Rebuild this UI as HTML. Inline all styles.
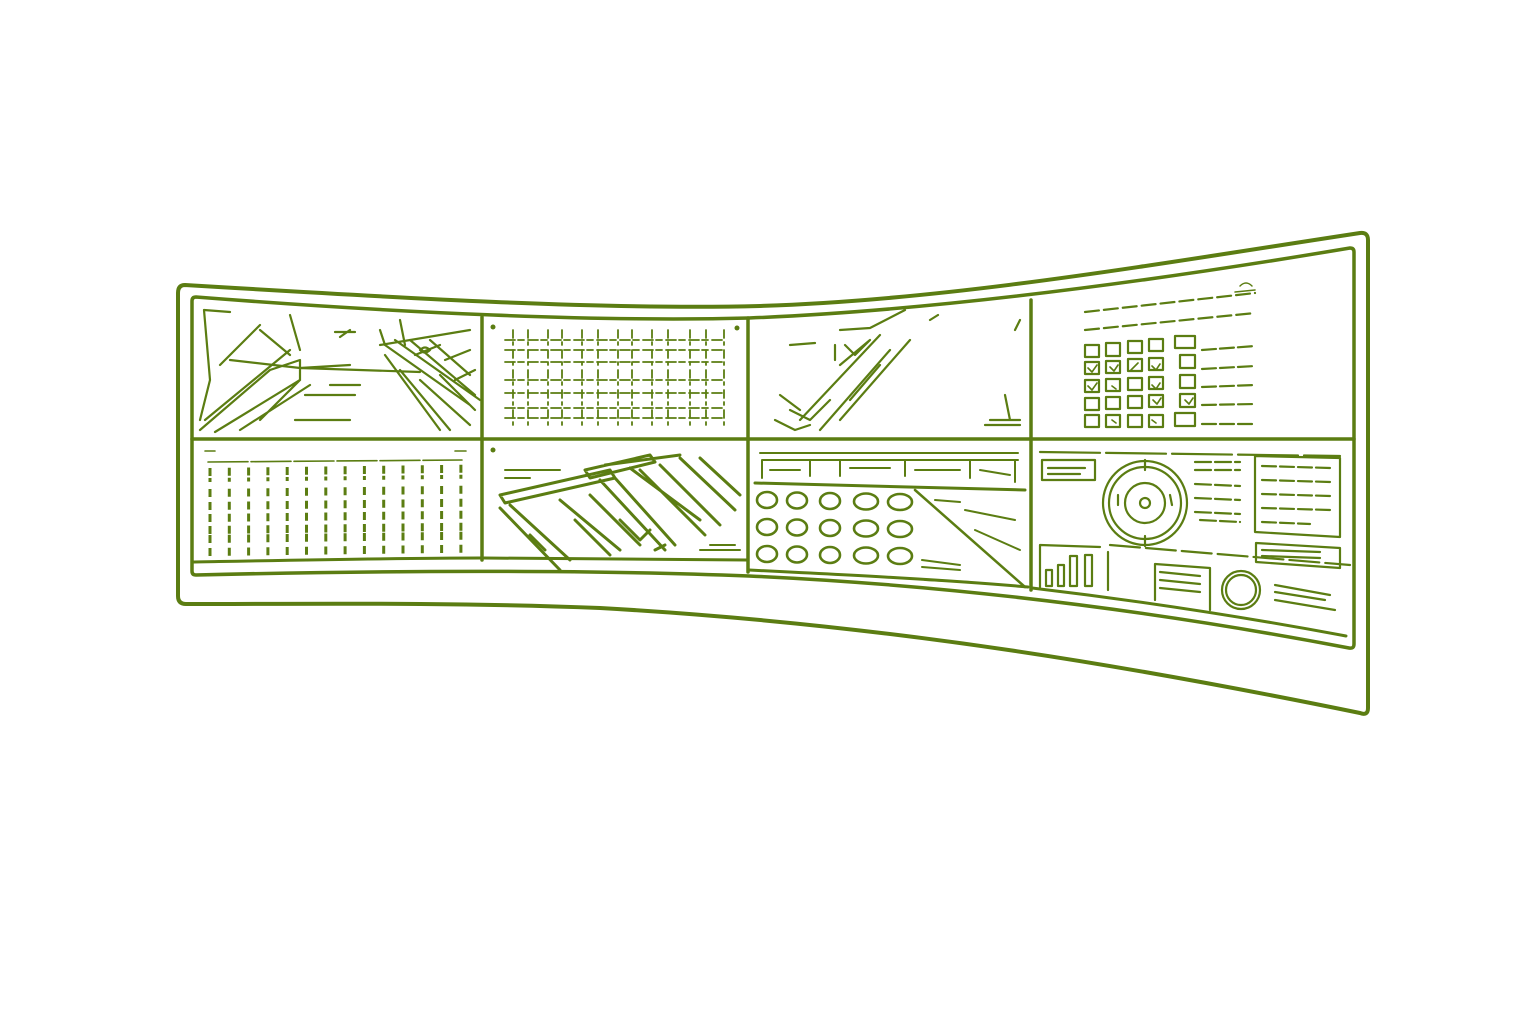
<!DOCTYPE html>
<html><head><meta charset="utf-8"><style>
html,body{margin:0;padding:0;background:#fff;width:1536px;height:1024px;overflow:hidden}
svg{display:block}
</style></head><body>
<svg width="1536" height="1024" viewBox="0 0 1536 1024" xmlns="http://www.w3.org/2000/svg">
<g fill="none" stroke="#5b7d12" stroke-linecap="round" stroke-linejoin="round">
<!-- outer frame -->
<path d="M185,285 C400,298 600,310 760,306 C950,300 1150,265 1360,233 Q1368,232 1368,240 L1368,708 Q1368,716 1360,713 C1150,670 900,625 600,608 C450,602 300,604 186,604 Q178,604 178,596 L178,293 Q178,285 185,285 Z" stroke-width="4"/>
<!-- inner frame -->
<path d="M196,297 C400,313 600,322 749,318 C900,312 1100,290 1350,248 Q1354,248 1354,252 L1354,644 Q1354,649 1349,648 C1150,610 950,585 749,576 C600,570 400,570 196,575 Q192,575 192,571 L192,301 Q192,297 196,297 Z" stroke-width="3.5"/>
<!-- row divider -->
<path d="M192,439 L1354,439" stroke-width="3.5"/>
<!-- panel bottoms -->
<path d="M192,562 C300,560 400,558 481,558 M484,558 L747,560 M749,570 C850,575 950,580 1028,587 M1032,588 C1150,602 1250,618 1346,636" stroke-width="3"/>
<!-- vertical dividers -->
<path d="M482,317 L482,560 M748,318 L748,572 M1031,300 L1031,590" stroke-width="3.5"/>

<!-- Panel 1 map -->
<g stroke-width="2.2">
<path d="M204,310 L230,312 M204,310 L210,380 L200,420 M220,365 L260,325 M200,430 L270,370 L300,360 L300,380 L260,420 M205,420 L290,350 M215,432 L300,380 M240,430 L310,385 M230,360 L300,368 L420,372 M300,368 L350,365 M260,330 L290,355 M290,315 L300,350 M330,385 L360,385 M305,395 L355,395 M295,420 L350,420"/>
<path d="M385,345 L470,405 M385,355 L440,430 M395,340 L480,400 M400,370 L450,430 M410,340 L475,395 M380,345 L470,330 M430,340 L470,375 M415,355 L440,345 M445,360 L470,350 M455,380 L475,370 M380,330 L385,345 M400,320 L405,345 M420,380 L470,425 M440,375 L475,410"/>
<path d="M335,332 L355,332 M340,337 L350,330 M420,350 q5,-5 10,0 q-5,5 -10,0"/>
</g>
<!-- Panel 2 grid -->
<g stroke-width="1.8">
<path d="M505,340 L725,340 M505,350 L725,350 M505,362 L725,362 M505,380 L725,380 M505,393 L725,393 M505,408 L725,408 M505,418 L725,418" stroke-dasharray="10 3 6 4"/>
<path d="M513,330 L513,430 M528,330 L528,430 M548,330 L548,430 M562,330 L562,430 M582,330 L582,430 M598,330 L598,430 M618,330 L618,430 M632,330 L632,430 M652,330 L652,430 M668,330 L668,430 M690,330 L690,430 M706,330 L706,430 M724,330 L724,430" stroke-dasharray="8 4 3 5"/>
</g>
<circle cx="493" cy="327" r="2.5" fill="#5b7d12" stroke="none"/>
<circle cx="737" cy="328" r="2.5" fill="#5b7d12" stroke="none"/>
<!-- Panel 3 -->
<g stroke-width="2.2">
<path d="M840,330 L870,328 M870,328 L905,310 M790,345 L815,343 M835,345 L835,360 M845,345 L855,355 L870,340 M840,365 L870,340 M800,420 L880,335 M820,430 L890,350 M840,420 L910,340 M850,400 L880,365 M790,410 L810,420 L830,400 M780,395 L800,410 M1005,395 L1010,420 L1020,420 M990,420 L1020,420 M985,425 L1020,425 M1015,330 L1020,320 M930,320 L938,315 M775,420 L795,430 L810,425"/>
</g>
<!-- Panel 4 checklist -->
<g stroke-width="2.2">
<path d="M1085,312 L1255,293 M1085,330 L1255,313" stroke-dasharray="14 5"/>
<path d="M1240,286 q6,-6 12,0 M1235,292 L1255,290" stroke-width="1.5"/>
<rect x="1085" y="345" width="14" height="12"/><rect x="1106" y="343" width="14" height="13"/><rect x="1128" y="341" width="14" height="12"/><rect x="1149" y="339" width="14" height="12"/><rect x="1175" y="336" width="20" height="12"/>
<rect x="1085" y="362" width="14" height="12"/><rect x="1106" y="361" width="14" height="12"/><rect x="1128" y="359" width="14" height="12"/><rect x="1149" y="358" width="14" height="12"/><rect x="1180" y="355" width="15" height="13"/>
<rect x="1085" y="380" width="14" height="12"/><rect x="1106" y="379" width="14" height="12"/><rect x="1128" y="378" width="14" height="12"/><rect x="1149" y="377" width="14" height="12"/><rect x="1180" y="375" width="15" height="13"/>
<rect x="1085" y="398" width="14" height="12"/><rect x="1106" y="397" width="14" height="12"/><rect x="1128" y="396" width="14" height="12"/><rect x="1149" y="395" width="14" height="12"/><rect x="1180" y="394" width="15" height="13"/>
<rect x="1085" y="415" width="14" height="12"/><rect x="1106" y="415" width="14" height="12"/><rect x="1128" y="415" width="14" height="12"/><rect x="1149" y="415" width="14" height="12"/><rect x="1175" y="413" width="20" height="13"/>
<path d="M1088,368 l4,4 l5,-7 M1110,367 l4,4 l4,-6 M1131,370 l7,-7 M1152,366 l4,4 l4,-6 M1088,386 l4,4 l5,-7 M1112,386 l4,3 M1152,385 l4,4 l4,-6 M1153,400 l4,4 l4,-6 M1185,400 l4,4 l4,-6 M1112,420 l4,3 M1152,420 l4,3" stroke-width="1.6"/>
<path d="M1202,350 L1255,346 M1202,369 L1255,366 M1202,387 L1255,385 M1202,405 L1255,404 M1202,424 L1255,424" stroke-dasharray="14 4"/>
</g>
<!-- Panel 5 dots -->
<g stroke-width="1.6">
<path d="M208,462 L462,460" stroke-dasharray="40 3"/>
<path d="M205,451 L215,451 M455,451 L466,451"/>
</g>
<g fill="#5b7d12" stroke="none" id="dots"></g>
<!-- Panel 6 isometric shapes -->
<g stroke-width="3">
<path d="M500,495 L610,470 L615,478 L505,503 Z M585,470 L650,455 L655,462 L590,478 Z M500,508 L560,570 M510,505 L570,560 M600,480 L665,550 M615,478 L675,545 M640,470 L705,535 M660,465 L720,525 M680,458 L735,510 M700,458 L740,495 M560,500 L620,550 M590,495 L640,545 M575,520 L610,555 M620,520 L640,540 L650,530 M530,535 L545,550 M655,550 l10,-5 M605,465 L680,455 M630,468 L700,520"/>
<path d="M505,470 L560,470 M505,478 L530,478 M700,550 L740,550 M710,545 L735,545" stroke-width="2"/>
</g>
<circle cx="493" cy="450" r="2.5" fill="#5b7d12" stroke="none"/>
<!-- Panel 7 -->
<g stroke-width="2">
<path d="M760,453 L1018,453 M762,460 L1018,460 M762,460 L762,478 M810,460 L810,476 M840,460 L840,476 M905,460 L905,476 M970,460 L970,478 M1015,460 L1015,482 M770,470 L800,470 M850,468 L890,468 M915,470 L960,470 M980,470 L1010,475"/>
<path d="M755,483 L1025,490" stroke-width="3"/>
<path d="M915,490 L1025,587" stroke-width="2.5"/>
<path d="M935,500 L960,502 M965,510 L1015,520 M975,530 L1020,550 M922,560 L960,565 M922,567 L960,570 M925,580 L970,582"/>
</g>
<g stroke-width="2.6" id="ovals"></g>
<!-- Panel 8 -->
<g stroke-width="2.2">
<path d="M1040,452 L1340,456" stroke-dasharray="60 6"/>
<rect x="1042" y="460" width="53" height="20"/>
<path d="M1048,468 L1085,468 M1048,474 L1080,474"/>
<circle cx="1145" cy="503" r="42"/><circle cx="1145" cy="503" r="36"/><circle cx="1145" cy="503" r="20"/><circle cx="1145" cy="503" r="5"/>
<path d="M1145,460 L1145,470 M1145,536 L1145,546 M1118,495 L1118,505 M1170,495 L1172,505"/>
<path d="M1195,462 L1240,462 M1195,470 L1240,470 M1195,484 L1240,486 M1195,498 L1240,500 M1195,512 L1240,514 M1200,520 L1240,522" stroke-dasharray="16 4"/>
<path d="M1255,456 L1340,458 L1340,537 L1255,532 Z"/>
<path d="M1262,466 L1330,468 M1262,480 L1330,482 M1262,494 L1330,496 M1262,508 L1330,510 M1262,522 L1310,524" stroke-dasharray="14 4"/>
<path d="M1256,543 L1340,548 L1340,568 L1256,562 Z M1262,550 L1320,552 M1262,556 L1320,558"/>
<path d="M1040,545 L1100,547 M1040,545 L1040,587 M1046,570 h6 v16 h-6 z M1058,565 h6 v21 h-6 z M1070,556 h7 v30 h-7 z M1085,555 h7 v31 h-7 z M1108,552 L1108,590"/>
<path d="M1155,564 L1210,568 L1210,610 M1155,564 L1155,600 M1160,572 L1200,576 M1160,580 L1200,584 M1160,588 L1200,592"/>
<circle cx="1241" cy="590" r="19"/><circle cx="1241" cy="590" r="15"/>
<path d="M1275,585 L1330,595 M1275,592 L1325,600 M1275,600 L1335,610"/>
<path d="M1110,545 L1350,565" stroke-dasharray="30 6"/>
</g>
</g>
<script>
(function(){
var ns="http://www.w3.org/2000/svg";
var d=document.getElementById("dots");
var ys=[472,482,493,506,518,530,539,552];
for(var c=0;c<14;c++){for(var r=0;r<8;r++){
var x=210+c*19.3, y=ys[r]-c*0.25;
var e=document.createElementNS(ns,"rect");
e.setAttribute("x",x-1.5);e.setAttribute("y",y-4);e.setAttribute("width",3);e.setAttribute("height",(r==1?4:8));
d.appendChild(e);}}
var o=document.getElementById("ovals");
var xs=[767,797,830,866,900], yy=[500,527,554];
for(var c=0;c<5;c++){for(var r=0;r<3;r++){
var e=document.createElementNS(ns,"ellipse");
e.setAttribute("cx",xs[c]);e.setAttribute("cy",yy[r]+c*0.5);e.setAttribute("rx",c>=3?12:10);e.setAttribute("ry",8);
o.appendChild(e);}}
})();
</script>
</svg>
</body></html>
